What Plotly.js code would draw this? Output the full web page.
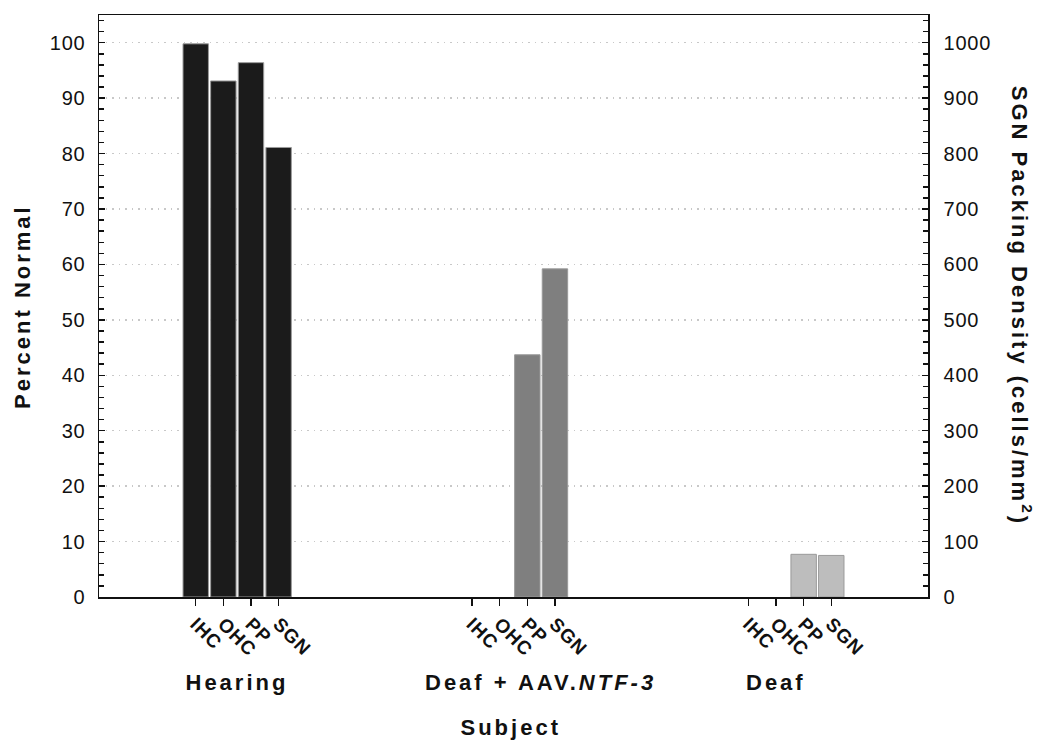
<!DOCTYPE html>
<html>
<head>
<meta charset="utf-8">
<script src="https://cdn.plot.ly/plotly-3.0.1.min.js"></script>
<style>
  html, body { margin: 0; padding: 0; background: #fff; }
  #chart { width: 1037px; height: 741px; }
  .main-svg .annotation-text { letter-spacing: 3px; }
  .main-svg .ytick text, .main-svg .y2tick text { letter-spacing: 0.8px; }
  .main-svg .xtick text { letter-spacing: 1px; }
</style>
</head>
<body>
<div id="chart"></div>
<script>
// ---- data ----
var groups = ['Hearing', 'Deaf + AAV.<i>NTF-3</i>', 'Deaf'];
var categories = ['IHC', 'OHC', 'PP', 'SGN'];
// Percent normal (left axis): IHC, OHC, PP
var hearingPct = [99.8, 93.1, 96.4];
var ntf3Pct = [null, null, 43.7];
var deafPct = [null, null, 7.7];
// SGN packing density, cells/mm^2 (right axis)
var hearingSGN = [811];
var ntf3SGN = [592];
var deafSGN = [75];
var groupColors = ['#1b1b1b', '#7f7f7f', '#bdbdbd'];
// group label placement (in category units)
var groupLabelX = [1.5, 12.47, 21.0];

var pctSeries = [hearingPct, ntf3Pct, deafPct];
var sgnSeries = [hearingSGN, ntf3SGN, deafSGN];
var groupSpacing = 10;

var traces = [];
var tickvals = [], ticktext = [];
groups.forEach(function (g, gi) {
  categories.forEach(function (c, ci) {
    tickvals.push(gi * groupSpacing + ci);
    ticktext.push(c);
  });
  var pct = pctSeries[gi];
  traces.push({
    type: 'bar',
    x: pct.map(function (_, i) { return gi * groupSpacing + i; }),
    y: pct,
    width: 0.92,
    marker: { color: groupColors[gi], line: { color: '#9a9a9a', width: 1 } },
    yaxis: 'y',
    showlegend: false,
    hoverinfo: 'x+y'
  });
  traces.push({
    type: 'bar',
    x: [gi * groupSpacing + 3],
    y: sgnSeries[gi],
    width: 0.92,
    marker: { color: groupColors[gi], line: { color: '#9a9a9a', width: 1 } },
    yaxis: 'y2',
    showlegend: false,
    hoverinfo: 'x+y'
  });
});

var fontFam = '"Liberation Sans", Arial, Helvetica, sans-serif';

var annotations = groups.map(function (g, gi) {
  return {
    text: '<b>' + g + '</b>',
    x: groupLabelX[gi], xref: 'x',
    y: -0.147, yref: 'paper',
    xanchor: 'center', yanchor: 'middle',
    showarrow: false,
    font: { family: fontFam, size: 22, color: '#111' }
  };
});
annotations.push({
  text: '<b>Subject</b>', x: 0.497, xref: 'paper', y: -0.224, yref: 'paper',
  xanchor: 'center', yanchor: 'middle', showarrow: false,
  font: { family: fontFam, size: 22, color: '#111' }
});
annotations.push({
  text: '<b>Percent Normal</b>', x: -0.093, xref: 'paper', y: 0.5, yref: 'paper',
  xanchor: 'center', yanchor: 'middle', textangle: -90, showarrow: false,
  font: { family: fontFam, size: 22, color: '#111' }
});
annotations.push({
  text: '<b>SGN Packing Density (cells/mm<sup>2</sup>)</b>', x: 1.113, xref: 'paper', y: 0.5, yref: 'paper',
  xanchor: 'center', yanchor: 'middle', textangle: 90, showarrow: false,
  font: { family: fontFam, size: 22, color: '#111' }
});

var layout = {
  width: 1037, height: 741,
  margin: { l: 99, r: 109, t: 15, b: 144, pad: 0 },
  paper_bgcolor: '#fff', plot_bgcolor: '#fff',
  barmode: 'overlay',
  showlegend: false,
  font: { family: fontFam, color: '#111' },
  xaxis: {
    range: [-3.5, 26.5],
    tickmode: 'array', tickvals: tickvals, ticktext: ticktext,
    tickangle: 45,
    ticks: 'outside', ticklen: 7, tickwidth: 1.5, tickcolor: '#111',
    tickfont: { family: fontFam, size: 19, weight: 'bold', color: '#111' },
    showline: true, linecolor: '#111', linewidth: 1.5, mirror: true,
    showgrid: false, zeroline: false
  },
  yaxis: {
    range: [0, 105],
    dtick: 10, tick0: 0,
    ticks: 'inside', ticklen: 6, tickwidth: 1.5, tickcolor: '#111',
    minor: { dtick: 2, tick0: 0, ticks: 'inside', ticklen: 5, tickwidth: 1.5, tickcolor: '#111', showgrid: false },
    tickfont: { family: fontFam, size: 20, color: '#111' },
    ticklabelstandoff: 8,
    showline: true, linecolor: '#111', linewidth: 1.5,
    showgrid: true, gridcolor: '#c8c8c8', griddash: '1.5px,5px', gridwidth: 1.5,
    zeroline: false
  },
  yaxis2: {
    overlaying: 'y', side: 'right',
    range: [0, 1050],
    dtick: 100, tick0: 0,
    ticks: 'inside', ticklen: 6, tickwidth: 1.5, tickcolor: '#111',
    minor: { dtick: 20, tick0: 0, ticks: 'inside', ticklen: 5, tickwidth: 1.5, tickcolor: '#111', showgrid: false },
    tickfont: { family: fontFam, size: 20, color: '#111' },
    ticklabelstandoff: 10,
    showline: true, linecolor: '#111', linewidth: 1.5,
    showgrid: false, zeroline: false
  },
  annotations: annotations
};

Plotly.newPlot('chart', traces, layout, { displayModeBar: false, staticPlot: true });
</script>
</body>
</html>
